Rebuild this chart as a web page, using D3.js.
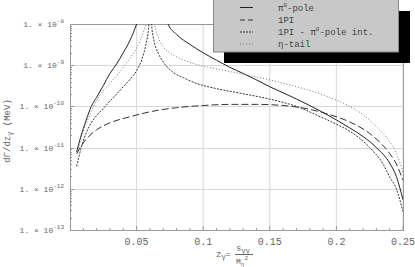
<!DOCTYPE html>
<html><head><meta charset="utf-8">
<script src="https://cdn.jsdelivr.net/npm/d3@7"></script>
<style>body{margin:0;background:#fff}svg{display:block}text{font-family:"Liberation Mono","DejaVu Sans Mono",monospace}</style>
</head><body><svg id="c" width="415" height="267"></svg>
<script>
// ---- data ----
const solidZ = [0.005,0.008,0.012,0.016,0.02,0.025,0.03,0.035,0.04,0.045,0.05,0.052,0.072,0.0736,0.08,0.09,0.1,0.11,0.12,0.13,0.14,0.15,0.16,0.17,0.18,0.19,0.2,0.21,0.22,0.23,0.24,0.245,0.25];
const solidV = [7.9e-12,1.8e-11,4.5e-11,1.0e-10,1.66e-10,3.2e-10,6.3e-10,1.07e-9,2.0e-9,4.0e-9,1.0e-8,1.6e-8,1.6e-8,1.0e-8,5.6e-9,3.2e-9,2.0e-9,1.32e-9,8.9e-10,6.3e-10,4.4e-10,3.0e-10,2.14e-10,1.51e-10,1.05e-10,7.1e-11,4.7e-11,3.0e-11,1.86e-11,1.0e-11,4.2e-12,2.0e-12,5.4e-13];
const dashedZ = [0.005,0.0088,0.015,0.02,0.03,0.045,0.06,0.08,0.1,0.12,0.14,0.16,0.18,0.195,0.21,0.225,0.235,0.24,0.245,0.25];
const dashedV = [7.1e-12,1.15e-11,2.0e-11,2.7e-11,4.0e-11,5.6e-11,7.4e-11,9.3e-11,1.05e-10,1.12e-10,1.12e-10,1.05e-10,8.5e-11,6.3e-11,4.2e-11,2.2e-11,1.12e-11,7.2e-12,4.0e-12,1.6e-12];
const intZ = [0.005,0.008,0.012,0.016,0.02,0.025,0.03,0.035,0.04,0.045,0.05,0.054,0.057,0.059,0.0598,0.0608,0.0615,0.063,0.0663,0.07,0.078,0.085,0.095,0.11,0.1276,0.15,0.17,0.188,0.2,0.21,0.225,0.235,0.24,0.245,0.25];
const intV = [3.5e-12,8.9e-12,2.2e-11,4.0e-11,6.0e-11,8.9e-11,1.35e-10,2.0e-10,3.0e-10,4.5e-10,7.4e-10,1.4e-9,3.2e-9,7.9e-9,1.6e-8,1.6e-8,7.9e-9,4.0e-9,1.95e-9,1.2e-9,6.5e-10,5.0e-10,3.6e-10,2.7e-10,2.1e-10,1.5e-10,1.0e-10,5.6e-11,3.7e-11,2.5e-11,1.0e-11,4.0e-12,1.95e-12,1.0e-12,2.8e-13];
const etaZ = [0.005,0.01,0.015,0.02,0.025,0.03,0.035,0.04,0.045,0.05,0.055,0.057,0.058,0.0625,0.0635,0.066,0.07,0.075,0.085,0.1,0.115,0.13,0.15,0.17,0.19,0.21,0.22,0.23,0.24,0.245,0.25];
const etaV = [7.0e-12,2.5e-11,6.3e-11,1.4e-10,2.4e-10,3.6e-10,5.6e-10,8.9e-10,1.48e-9,2.6e-9,6.3e-9,1.0e-8,1.6e-8,1.6e-8,1.0e-8,5.0e-9,2.8e-9,2.0e-9,1.35e-9,9.5e-10,7.6e-10,6.0e-10,4.4e-10,3.0e-10,1.9e-10,1.0e-10,6.3e-11,3.2e-11,1.4e-11,7.4e-12,2.5e-12];
const xTicks = [0.05,0.1,0.15,0.2,0.25];
const xTickLabels = ["0.05","0.1","0.15","0.2","0.25"];
const yTicks = [1e-13,1e-12,1e-11,1e-10,1e-9,1e-8];
const yTickExp = ["-13","-12","-11","-10","-9","-8"];
const legendPre = ["π","1PI","1PI - π","η-tail"];
const legendSup = ["0","","0",""];
const legendPost = ["-pole","","-pole int.",""];

// ---- layout ----
const svg = d3.select("#c");
const L=70,R=403,T=24,B=230;
const x = d3.scaleLinear().domain([0,0.25]).range([L,R]);
const y = d3.scaleLog().domain([1e-13,1e-8]).range([B,T]);

// grid
const g = svg.append("g");
g.selectAll(".vg").data(xTicks).join("line").attr("x1",d=>x(d)).attr("x2",d=>x(d)).attr("y1",T).attr("y2",B).attr("stroke","#d8d8d8").attr("stroke-width",1);
g.selectAll(".hg").data(yTicks.slice(1,-1)).join("line").attr("x1",L).attr("x2",R).attr("y1",d=>Math.round(y(d))+0.5).attr("y2",d=>Math.round(y(d))+0.5).attr("stroke","#d8d8d8").attr("stroke-width",1);

// minor ticks
const xMinor = d3.range(1,26).map(i=>i*0.01);
g.selectAll(".xm").data(xMinor).join("line").attr("x1",d=>x(d)).attr("x2",d=>x(d)).attr("y1",B).attr("y2",d=>B-(Math.abs(d*20-Math.round(d*20))<1e-6?4:2)).attr("stroke","#999");
const yMinor=[];
for(let e=-13;e<-8;e++) for(let m=1;m<10;m++) yMinor.push({v:m*Math.pow(10,e),maj:m===1});
g.selectAll(".ym").data(yMinor).join("line").attr("x1",L).attr("x2",d=>L+(d.maj?4:2)).attr("y1",d=>Math.round(y(d.v))+0.5).attr("y2",d=>Math.round(y(d.v))+0.5).attr("stroke","#999");

// frame
svg.append("rect").attr("x",L+0.5).attr("y",T+0.5).attr("width",R-L).attr("height",B-T).attr("fill","none").attr("stroke","#999");

// tick labels
svg.selectAll(".xl").data(xTicks).join("text").attr("x",(d,i)=>x(d)).attr("y",B+15).attr("text-anchor","middle").attr("font-size",10).attr("fill","#666").text((d,i)=>xTickLabels[i]);
const yl = svg.selectAll(".yl").data(yTicks).join("text").attr("x",L-6).attr("y",d=>y(d)+3).attr("text-anchor","end").attr("font-size",8).attr("fill","#666");
yl.append("tspan").text("1. × 10");
yl.append("tspan").attr("dy",-4).attr("font-size",6).text((d,i)=>yTickExp[i]);

// axis titles
const yt = svg.append("text").attr("transform","translate(10,131) rotate(-90)").attr("text-anchor","middle").attr("font-size",9).attr("fill","#666");
yt.append("tspan").text("dΓ/dz");
yt.append("tspan").attr("dy",2).attr("font-size",7).text("γ");
yt.append("tspan").attr("dy",-2).text(" (MeV)");
const xt = svg.append("g").attr("fill","#666");
const zt = xt.append("text").attr("x",216).attr("y",257).attr("font-size",9);
zt.append("tspan").text("z");
zt.append("tspan").attr("dy",2).attr("font-size",7).text("γ");
zt.append("tspan").attr("dy",-2).text("=");
const num = xt.append("text").attr("x",243).attr("y",251).attr("text-anchor","middle").attr("font-size",9);
num.append("tspan").text("s");
num.append("tspan").attr("dy",2).attr("font-size",7).text("γγ");
xt.append("line").attr("x1",235).attr("x2",253).attr("y1",254.5).attr("y2",254.5).attr("stroke","#666");
const den = xt.append("text").attr("x",242).attr("y",264).attr("text-anchor","middle").attr("font-size",8);
den.append("tspan").text("M");
den.append("tspan").attr("dy",2).attr("font-size",6).text("η");
den.append("tspan").attr("dy",-6).attr("font-size",6).text("2");

// curves
svg.append("clipPath").attr("id","cp").append("rect").attr("x",L).attr("y",T).attr("width",R-L).attr("height",B-T);
const line = d3.line().x(d=>x(d[0])).y(d=>y(d[1])).curve(d3.curveMonotoneX);
const series = [
 {z:solidZ,v:solidV,stroke:"#222",dash:null,legDash:null},
 {z:dashedZ,v:dashedV,stroke:"#333",dash:"7,3",legDash:"5,3"},
 {z:intZ,v:intV,stroke:"#333",dash:"2,1.3",legDash:"2,1"},
 {z:etaZ,v:etaV,stroke:"#777",dash:"1,2",legDash:"1,2"}
];
const cg = svg.append("g").attr("clip-path","url(#cp)");
series.forEach(s=>{
  cg.append("path").datum(s.z.map((z,i)=>[z,s.v[i]])).attr("d",line).attr("fill","none").attr("stroke",s.stroke).attr("stroke-width",1).attr("stroke-dasharray",s.dash);
});

// legend
const lg = svg.append("g");
lg.append("rect").attr("x",224).attr("y",11).attr("width",186).attr("height",52).attr("fill","#000");
lg.append("rect").attr("x",213.5).attr("y",-1).attr("width",185).attr("height",53).attr("fill","#c8c8c8").attr("stroke","#888");
const rows=[7.5,20,32,44];
series.forEach((s,i)=>{
  lg.append("line").attr("x1",240).attr("x2",253).attr("y1",rows[i]).attr("y2",rows[i]).attr("stroke",s.stroke).attr("stroke-dasharray",s.legDash);
});
legendPre.forEach((p,i)=>{
  const t = lg.append("text").attr("x",278).attr("y",rows[i]+3).attr("font-size",9).attr("fill","#444");
  t.append("tspan").text(p);
  if(legendSup[i]){
    t.append("tspan").attr("dy",-4).attr("font-size",6).text(legendSup[i]);
    t.append("tspan").attr("dy",4).text(legendPost[i]);
  }
});
</script></body></html>
